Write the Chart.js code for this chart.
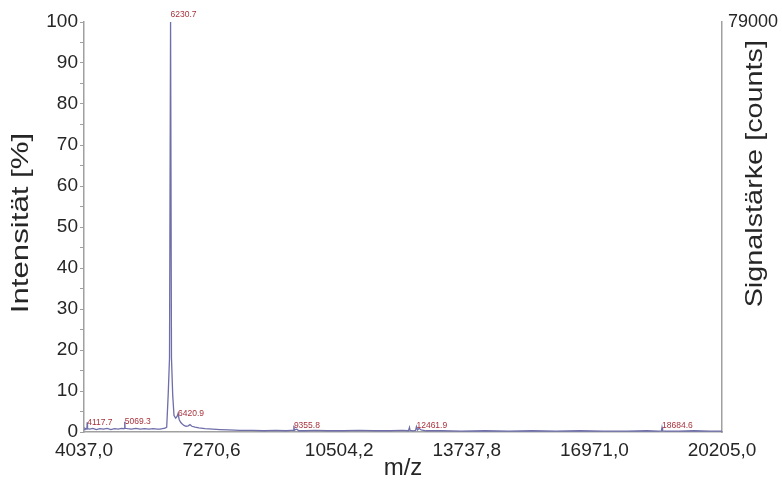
<!DOCTYPE html>
<html>
<head>
<meta charset="utf-8">
<script src="https://cdn.jsdelivr.net/npm/chart.js@4.4.1/dist/chart.umd.min.js"></script>
<style>
  html, body { margin: 0; padding: 0; background: #fff; }
</style>
</head>
<body>
<canvas id="c" width="782" height="486"></canvas>
<script>
// MALDI spectrum: m/z against relative intensity
const mz = [
  4037, 4060, 4090, 4110, 4117.7, 4126, 4180, 4260, 4350, 4440,
  4530, 4620, 4720, 4810, 4900, 4990, 5050, 5062, 5069.3, 5078,
  5140, 5240, 5350, 5460, 5570, 5680, 5790, 5890, 5963, 6020,
  6064, 6105, 6133, 6170, 6204, 6230.7, 6254, 6285,
  6318, 6360, 6395, 6420.9, 6450, 6490, 6520, 6570, 6622, 6680,
  6723, 6770, 6850, 6950, 7103, 7300, 7483, 7700, 7990, 8300,
  8600, 8900, 9150, 9300, 9345, 9355.8, 9368, 9400, 9430, 9480,
  9650, 9900, 10200, 10600, 11000, 11400, 11800, 12100, 12260, 12285,
  12300, 12380, 12440, 12461.9, 12490, 12530, 12580, 12700, 13100, 13600,
  14200, 14800, 15400, 16000, 16600, 17200, 17800, 18300, 18600, 18670,
  18684.6, 18700, 18760, 19100, 19500, 19900, 20205
];
const intensity = [
  0.6, 0.9, 0.7, 0.8, 2.4, 0.8, 0.7, 0.9, 0.6, 0.8,
  0.7, 0.9, 0.6, 0.8, 0.7, 0.9, 0.8, 0.9, 2.5, 0.9,
  0.8, 0.7, 0.9, 0.7, 0.8, 0.7, 0.8, 0.7, 0.7, 0.8,
  0.9, 1.0, 1.2, 9.0, 18.0, 100, 18.0, 9.0,
  4.0, 3.4, 3.8, 4.5, 3.0, 2.3, 2.0, 1.6, 1.4, 1.5,
  1.8, 1.4, 1.2, 1.0, 0.8, 0.7, 0.6, 0.5, 0.4, 0.4,
  0.3, 0.4, 0.3, 0.4, 0.4, 1.6, 0.4, 0.6, 0.7, 0.3,
  0.3, 0.4, 0.3, 0.3, 0.4, 0.3, 0.3, 0.4, 0.3, 1.1,
  0.4, 0.3, 0.4, 1.3, 0.5, 0.9, 0.5, 0.3, 0.3, 0.2,
  0.3, 0.2, 0.3, 0.2, 0.3, 0.2, 0.2, 0.3, 0.2, 0.3,
  1.1, 0.3, 0.2, 0.2, 0.3, 0.2, 0.2
];

// annotated peaks (m/z)
const peakMz = [4117.7, 5069.3, 6230.7, 6420.9, 9355.8, 12461.9, 18684.6];

// axis ticks
const xTickValues = [4037.0, 7270.6, 10504.2, 13737.8, 16971.0, 20205.0];
const xTickLabels = ['4037,0', '7270,6', '10504,2', '13737,8', '16971,0', '20205,0'];
const countsMax = 79000;

const xTitle = 'm/z';
const yTitle = 'Intensität [%]';
const y2Title = 'Signalstärke [counts]';

const FONT = "'Liberation Sans', Arial, sans-serif";
const AXIS = '#a0a0a0';
const TEXT = '#262626';

const points = mz.map((m, i) => ({ x: m, y: intensity[i] }));

const peakLabels = {
  id: 'peakLabels',
  afterDatasetsDraw(chart) {
    const { ctx } = chart;
    const xs = chart.scales.x, ys = chart.scales.y;
    ctx.save();
    ctx.font = `8.5px ${FONT}`;
    ctx.fillStyle = '#a8323c';
    ctx.textAlign = 'left';
    ctx.textBaseline = 'bottom';
    peakMz.forEach(p => {
      const v = intensity[mz.indexOf(p)];
      const px = xs.getPixelForValue(p);
      const py = ys.getPixelForValue(v);
      const ty = v > 50 ? py - 3 : Math.min(py + 4.5, ys.bottom - 2);
      ctx.fillText(p.toFixed(1), px, ty);
    });
    ctx.restore();
  }
};

const axisTitles = {
  id: 'axisTitles',
  afterDraw(chart) {
    const { ctx, chartArea: a } = chart;
    ctx.save();
    ctx.fillStyle = TEXT;
    ctx.font = `24px ${FONT}`;
    ctx.textBaseline = 'middle';

    ctx.save();
    ctx.translate(21, (a.top + a.bottom) / 2 - 4);
    ctx.rotate(-Math.PI / 2);
    ctx.scale(1.3, 1);
    ctx.textAlign = 'center';
    ctx.fillText(yTitle, 0, 0);
    ctx.restore();

    ctx.save();
    ctx.translate(755, a.top + 18);
    ctx.rotate(-Math.PI / 2);
    ctx.scale(1.2, 1);
    ctx.textAlign = 'right';
    ctx.fillText(y2Title, 0, 0);
    ctx.restore();

    ctx.textAlign = 'center';
    ctx.fillText(xTitle, (a.left + a.right) / 2, 468);
    ctx.restore();
  }
};

new Chart(document.getElementById('c'), {
  type: 'line',
  data: {
    datasets: [{
      data: points,
      borderColor: '#6e6eaa',
      borderWidth: 1.3,
      pointRadius: 0,
      tension: 0,
      fill: false
    }]
  },
  options: {
    responsive: false,
    animation: false,
    devicePixelRatio: 1,
    layout: { padding: { top: 22, left: 0, right: 0, bottom: 0 } },
    plugins: { legend: { display: false }, tooltip: { enabled: false } },
    scales: {
      x: {
        type: 'linear',
        min: xTickValues[0],
        max: xTickValues[xTickValues.length - 1],
        afterBuildTicks: s => { s.ticks = xTickValues.map(v => ({ value: v })); },
        afterFit: s => { s.height = 54; },
        ticks: {
          autoSkip: false, maxRotation: 0, padding: 7,
          color: TEXT, font: { family: FONT, size: 19 },
          callback: (v, i) => xTickLabels[i]
        },
        grid: { display: false, drawTicks: false },
        border: { display: true, color: AXIS, width: 1.5 }
      },
      y: {
        min: 0, max: 100,
        afterFit: s => { s.width = 84; },
        ticks: {
          stepSize: 5, autoSkip: false, padding: 2,
          color: TEXT, font: { family: FONT, size: 19 },
          callback: v => (v % 10 === 0 ? String(v) : '')
        },
        grid: { drawOnChartArea: false, drawTicks: true, tickLength: 4, color: AXIS },
        border: { display: true, color: AXIS, width: 1.5 }
      },
      y2: {
        position: 'right',
        min: 0, max: countsMax,
        afterBuildTicks: s => { s.ticks = [{ value: countsMax }]; },
        afterFit: s => { s.width = 60; },
        ticks: {
          padding: 6, color: TEXT, font: { family: FONT, size: 18 },
          callback: v => String(v)
        },
        grid: { display: false, drawTicks: false },
        border: { display: true, color: AXIS, width: 1.5 }
      }
    }
  },
  plugins: [peakLabels, axisTitles]
});
</script>
</body>
</html>
